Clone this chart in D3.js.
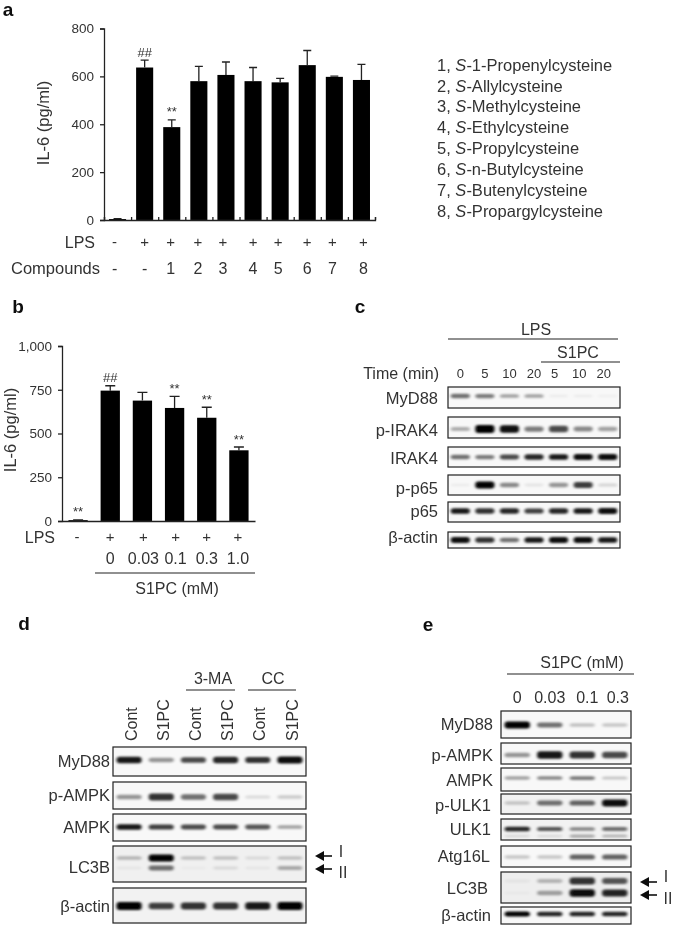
<!DOCTYPE html>
<html>
<head>
<meta charset="utf-8">
<style>
    html, body { margin: 0; padding: 0; background: #fff; }
    svg { display: block; }
    text { font-family: "Liberation Sans", Arial, sans-serif; fill: #333; }
    .panel { font-weight: bold; font-size: 19px; fill: #111; }
    .axis path, .axis line { stroke: #222; stroke-width: 1.3px; }
    .axis text { font-size: 13.5px; font-family: "Liberation Sans", Arial, sans-serif; fill: #333; }
</style>
</head>
<body>
<svg width="675" height="927"></svg>
<script src="https://cdn.jsdelivr.net/npm/d3@7"></script>
<script>
// panel a
var aValues = [4, 637, 388, 580, 606, 580, 575, 647, 598, 585];
var aErrTop = [6, 668, 418, 642, 660, 637, 592, 708, 601, 650];
var aTicks = [0, 200, 400, 600, 800];
var aLps = ["-", "+", "+", "+", "+", "+", "+", "+", "+", "+"];
var aCompounds = ["-", "-", "1", "2", "3", "4", "5", "6", "7", "8"];
var aMarks = ["", "##", "**", "", "", "", "", "", "", ""];
var aLegendNum = ["1", "2", "3", "4", "5", "6", "7", "8"];
var aLegendName = ["1-Propenylcysteine", "Allylcysteine", "Methylcysteine", "Ethylcysteine", "Propylcysteine", "n-Butylcysteine", "Butenylcysteine", "Propargylcysteine"];

// panel b
var bValues = [5, 745, 688, 646, 590, 404];
var bErrTop = [7, 773, 735, 712, 650, 423];
var bTicks = [0, 250, 500, 750, 1000];
var bLps = ["-", "+", "+", "+", "+", "+"];
var bDose = ["", "0", "0.03", "0.1", "0.3", "1.0"];
var bMarks = ["**", "##", "", "**", "**", "**"];

// panel c, band strength per lane
var cTimes = ["0", "5", "10", "20", "5", "10", "20"];
var cMyD88 = [.55, .5, .35, .35, .05, .05, .04];
var cPIrak4 = [.3, 1, .95, .5, .7, .45, .35];
var cIrak4 = [.55, .5, .7, .85, .9, .95, .95];
var cPP65 = [.05, 1, .45, .08, .4, .75, .15];
var cP65 = [.9, .8, .85, .75, .85, .9, .95];
var cActin = [.95, .8, .55, .9, .95, .95, .9];

// panel d
var dLanes = ["Cont", "S1PC", "Cont", "S1PC", "Cont", "S1PC"];
var dMyD88 = [.9, .4, .7, .85, .8, .95];
var dPAmpk = [.4, .8, .55, .7, .12, .18];
var dAmpk = [.9, .75, .7, .7, .65, .35];
var dLc3I = [.25, 1, .2, .2, .1, .2];
var dLc3II = [.05, .55, .03, .1, .05, .3];
var dActin = [1, .75, .8, .8, .9, 1];

// panel e
var eDoses = ["0", "0.03", "0.1", "0.3"];
var eMyD88 = [1, .55, .22, .2];
var ePAmpk = [.4, .9, .8, .7];
var eAmpk = [.35, .45, .5, .2];
var ePUlk1 = [.2, .55, .6, .95];
var eUlk1 = [.85, .65, .45, .55];
var eUlk1Low = [.1, .1, .3, .25];
var eAtg16 = [.2, .2, .6, .6];
var eLc3I = [.05, .25, .8, .65];
var eLc3II = [.03, .35, .95, .85];
var eActin = [1, .85, .85, .85];

var svg = d3.select("svg");
var defs = svg.append("defs");
defs.append("filter").attr("id", "soft")
    .attr("x", "-30%").attr("y", "-150%").attr("width", "160%").attr("height", "400%")
    .append("feGaussianBlur").attr("stdDeviation", "1.5 1.1");
defs.append("filter").attr("id", "page")
    .attr("filterUnits", "userSpaceOnUse").attr("x", 0).attr("y", 0).attr("width", 675).attr("height", 927)
    .append("feGaussianBlur").attr("stdDeviation", 0.35);

var page = svg.append("g").attr("filter", "url(#page)");

function label(txt, x, y, size, anchor) {
    return page.append("text").attr("x", x).attr("y", y).attr("dy", "0.35em")
        .attr("font-size", size).attr("text-anchor", anchor || "middle").text(txt);
}
function panel(txt, x, y) {
    page.append("text").attr("class", "panel").attr("x", x).attr("y", y).attr("dy", "0.35em")
        .attr("text-anchor", "middle").text(txt);
}
function rule(x1, x2, y) {
    page.append("line").attr("x1", x1).attr("x2", x2).attr("y1", y).attr("y2", y)
        .attr("stroke", "#222").attr("stroke-width", 1.2);
}
function yTitle(x, y) {
    page.append("text").attr("transform", "translate(" + x + "," + y + ") rotate(-90)")
        .attr("dy", "0.35em").attr("text-anchor", "middle").attr("font-size", 16.5).text("IL-6 (pg/ml)");
}

function barChart(o) {
    var x = d3.scaleBand().domain(d3.range(o.values.length)).range([o.x0, o.x1]).paddingInner(o.pad).paddingOuter(o.pad / 2);
    var y = d3.scaleLinear().domain([0, o.max]).range([o.y0, o.y1]);
    var g = page.append("g");
    g.selectAll(".bar").data(o.values).enter().append("rect")
        .attr("x", function(d, i) { return x(i); })
        .attr("width", x.bandwidth())
        .attr("y", function(d) { return y(d); })
        .attr("height", function(d) { return o.y0 - y(d); })
        .attr("fill", "#000");
    var cx = function(i) { return x(i) + x.bandwidth() / 2; };
    g.selectAll(".err").data(o.errTop).enter().append("path")
        .attr("d", function(d, i) {
            return "M" + cx(i) + "," + y(o.values[i]) + "V" + y(d) + "M" + (cx(i) - o.cap) + "," + y(d) + "H" + (cx(i) + o.cap);
        })
        .attr("stroke", "#222").attr("stroke-width", 1.3).attr("fill", "none");
    g.selectAll(".mark").data(o.marks).enter().append("text")
        .attr("x", function(d, i) { return cx(i); })
        .attr("y", function(d, i) { return y(o.errTop[i]) - o.markGap; })
        .attr("dy", "0.35em").attr("text-anchor", "middle")
        .attr("font-size", 13).attr("fill", "#555").text(function(d) { return d; });
    g.append("g").attr("class", "axis").attr("transform", "translate(" + o.x0 + ",0)")
        .call(d3.axisLeft(y).tickValues(o.ticks).tickSize(4).tickPadding(6));
    var xb = g.append("g").attr("class", "axis").attr("transform", "translate(0," + o.y0 + ")");
    if (o.xTicks) {
        var edge = d3.scaleLinear().domain([0, o.values.length]).range([o.x0, o.x1]);
        xb.call(d3.axisBottom(edge).ticks(o.values.length).tickSize(-3).tickSizeOuter(-3).tickFormat(""));
    } else {
        xb.call(d3.axisBottom(x).tickSize(0).tickFormat(""));
    }
    return cx;
}

// one boxed blot strip; each entry of bands is one row of lanes at its own height
function blot(lanes, x0, x1, row) {
    var x = d3.scaleBand().domain(d3.range(lanes)).range([x0, x1]).paddingInner(0.22).paddingOuter(0.11);
    var alpha = d3.scaleLinear().domain([0, 1]).range([0, 1]);
    var thick = d3.scaleLinear().domain([0, 1]).range([2.5, row.thick || 7]);
    var clipId = "clip" + (blot.n = (blot.n || 0) + 1);
    defs.append("clipPath").attr("id", clipId).append("rect")
        .attr("x", x0).attr("y", row.top).attr("width", x1 - x0).attr("height", row.bottom - row.top);
    var g = page.append("g");
    g.append("rect").attr("x", x0).attr("y", row.top).attr("width", x1 - x0).attr("height", row.bottom - row.top)
        .attr("fill", row.bg || "#f8f8f8");
    var inner = g.append("g").attr("clip-path", "url(#" + clipId + ")").append("g").attr("filter", "url(#soft)");
    row.bands.forEach(function(b) {
        inner.selectAll(null).data(b.values).enter().append("rect")
            .attr("x", function(d, i) { return x(i); })
            .attr("width", x.bandwidth())
            .attr("y", function(d) { return b.y - thick(d) / 2; })
            .attr("height", function(d) { return thick(d); })
            .attr("rx", 3)
            .attr("fill", "#000")
            .attr("opacity", function(d) { return alpha(d); });
    });
    g.append("rect").attr("x", x0).attr("y", row.top).attr("width", x1 - x0).attr("height", row.bottom - row.top)
        .attr("fill", "none").attr("stroke", "#222").attr("stroke-width", 1.2);
    label(row.name, row.labelX, row.labelY || (row.top + row.bottom) / 2, 16.5, "end");
}

function arrow(x1, x2, y) {
    page.append("path").attr("d", "M" + x2 + "," + y + "H" + (x1 + 6)).attr("stroke", "#111").attr("stroke-width", 1.6);
    page.append("path").attr("d", "M" + x1 + "," + y + "l9,-5v10z").attr("fill", "#111");
}

// ---- a ----
panel("a", 8, 9);
yTitle(43, 123);
var aCx = barChart({ values: aValues, errTop: aErrTop, marks: aMarks, ticks: aTicks, max: 800,
    x0: 104, x1: 375, y0: 220, y1: 28.5, pad: 0.37, cap: 4, markGap: 8, xTicks: true });
var aNudge = [-3, 0, -1, -1, -3, 0, -2, 0, -2, 2];
label("LPS", 95, 242, 16, "end");
label("Compounds", 100, 268, 16.5, "end");
aLps.forEach(function(d, i) { label(d, aCx(i) + aNudge[i], 242, 15); });
aCompounds.forEach(function(d, i) { label(d, aCx(i) + aNudge[i], 268, 16); });

var legendY = d3.scalePoint().domain(d3.range(aLegendNum.length)).range([65, 211]);
aLegendNum.forEach(function(d, i) {
    var t = label("", 437, legendY(i), 16.5, "start");
    t.append("tspan").text(d + ", ");
    t.append("tspan").attr("font-style", "italic").text("S");
    t.append("tspan").text("-" + aLegendName[i]);
});

// ---- b ----
panel("b", 18, 306);
yTitle(10, 430);
var bCx = barChart({ values: bValues, errTop: bErrTop, marks: bMarks, ticks: bTicks, max: 1000,
    x0: 62, x1: 255, y0: 521, y1: 346, pad: 0.4, cap: 5, markGap: 8, xTicks: false });
var bNudge = [-1, 0, 1, 1, 0, -1];
label("LPS", 55, 537, 16, "end");
bLps.forEach(function(d, i) { label(d, bCx(i) + bNudge[i], 537, 15); });
bDose.forEach(function(d, i) { label(d, bCx(i) + bNudge[i], 558, 16); });
rule(95, 255, 573);
label("S1PC (mM)", 177, 588, 16);

// ---- c ----
panel("c", 360, 306);
label("LPS", 536, 329, 16);
rule(448, 618, 339);
label("S1PC", 578, 352, 16);
rule(541, 620, 362);
label("Time (min)", 439, 373, 16, "end");
var cLane = d3.scaleBand().domain(d3.range(cTimes.length)).range([448, 620]);
cTimes.forEach(function(d, i) { label(d, cLane(i) + cLane.bandwidth() / 2 - (i > 3 ? 4 : 0), 373, 13); });
[
    { name: "MyD88", top: 387, bottom: 408, labelY: 398, bands: [{ y: 396, values: cMyD88 }], thick: 6 },
    { name: "p-IRAK4", top: 417, bottom: 438, labelY: 430, bands: [{ y: 429, values: cPIrak4 }], thick: 8 },
    { name: "IRAK4", top: 447, bottom: 467, labelY: 458, bands: [{ y: 457, values: cIrak4 }], thick: 6 },
    { name: "p-p65", top: 475, bottom: 495, labelY: 488, bands: [{ y: 485, values: cPP65 }], thick: 7 },
    { name: "p65", top: 502, bottom: 522, labelY: 511, bands: [{ y: 511, values: cP65 }], thick: 6 },
    { name: "\u03b2-actin", top: 532, bottom: 548, labelY: 537, bands: [{ y: 540, values: cActin }], thick: 6 }
].forEach(function(r) { r.labelX = 438; blot(cTimes.length, 448, 620, r); });

// ---- d ----
panel("d", 24, 623);
label("3-MA", 213, 678, 16);
rule(186, 235, 690);
label("CC", 273, 678, 16);
rule(248, 296, 690);
var dLane = d3.scaleBand().domain(d3.range(dLanes.length)).range([113, 306]);
dLanes.forEach(function(d, i) {
    page.append("text").attr("transform", "translate(" + (dLane(i) + dLane.bandwidth() / 2 + 2) + ",741) rotate(-90)")
        .attr("dy", "0.35em").attr("font-size", 16).text(d);
});
[
    { name: "MyD88", top: 747, bottom: 776, bands: [{ y: 760, values: dMyD88 }], thick: 7 },
    { name: "p-AMPK", top: 782, bottom: 809, bands: [{ y: 797, values: dPAmpk }], thick: 8 },
    { name: "AMPK", top: 814, bottom: 841, bands: [{ y: 827, values: dAmpk }], thick: 6 },
    { name: "LC3B", top: 846, bottom: 882, labelY: 867, bg: "#f0f0f0", bands: [{ y: 858, values: dLc3I }, { y: 868, values: dLc3II }], thick: 7 },
    { name: "\u03b2-actin", top: 888, bottom: 923, labelY: 906, bg: "#f2f2f2", bands: [{ y: 906, values: dActin }], thick: 8 }
].forEach(function(r) { r.labelX = 110; blot(dLanes.length, 113, 306, r); });
arrow(315, 332, 856);
arrow(315, 332, 869);
label("I", 341, 851, 16);
label("II", 343, 872, 16);

// ---- e ----
panel("e", 428, 624);
label("S1PC (mM)", 582, 662, 16);
rule(507, 634, 674);
var eNudge = [0, 0, 5, 3];
var eLane = d3.scaleBand().domain(d3.range(eDoses.length)).range([501, 631]);
eDoses.forEach(function(d, i) { label(d, eLane(i) + eLane.bandwidth() / 2 + eNudge[i], 697, 16); });
[
    { name: "MyD88", labelX: 493, top: 711, bottom: 738, bands: [{ y: 725, values: eMyD88 }], thick: 7 },
    { name: "p-AMPK", labelX: 493, top: 743, bottom: 764, labelY: 755, bands: [{ y: 755, values: ePAmpk }], thick: 8 },
    { name: "AMPK", labelX: 493, top: 768, bottom: 791, labelY: 780, bands: [{ y: 778, values: eAmpk }], thick: 5 },
    { name: "p-ULK1", labelX: 491, top: 794, bottom: 814, labelY: 805, bg: "#f2f2f2", bands: [{ y: 803, values: ePUlk1 }], thick: 7 },
    { name: "ULK1", labelX: 491, top: 819, bottom: 840, bg: "#f2f2f2", bands: [{ y: 829, values: eUlk1 }, { y: 836, values: eUlk1Low }], thick: 5 },
    { name: "Atg16L", labelX: 490, top: 846, bottom: 867, bands: [{ y: 857, values: eAtg16 }], thick: 7 },
    { name: "LC3B", labelX: 488, top: 872, bottom: 903, labelY: 888, bg: "#eeeeee", bands: [{ y: 881, values: eLc3I }, { y: 893, values: eLc3II }], thick: 8 },
    { name: "\u03b2-actin", labelX: 491, top: 907, bottom: 924, labelY: 915, bands: [{ y: 914, values: eActin }], thick: 5 }
].forEach(function(r) { blot(eDoses.length, 501, 631, r); });
arrow(640, 657, 882);
arrow(640, 657, 895);
label("I", 666, 876, 16);
label("II", 668, 898, 16);
</script>
</body>
</html>
